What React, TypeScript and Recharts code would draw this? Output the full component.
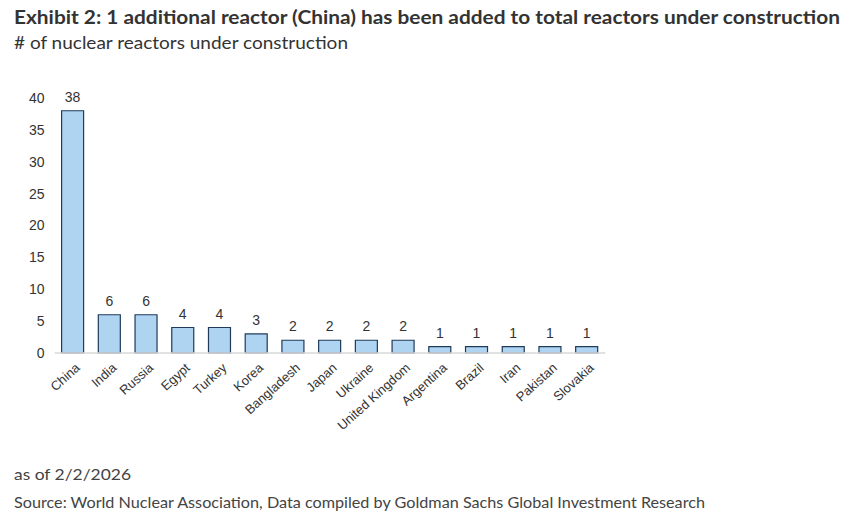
import React from "react";
import { BarChart, Bar, XAxis, YAxis, LabelList } from "recharts";

const countries = ["China", "India", "Russia", "Egypt", "Turkey", "Korea", "Bangladesh", "Japan", "Ukraine", "United Kingdom", "Argentina", "Brazil", "Iran", "Pakistan", "Slovakia"];
const reactors = [38, 6, 6, 4, 4, 3, 2, 2, 2, 2, 1, 1, 1, 1, 1];
const yTicks = [0, 5, 10, 15, 20, 25, 30, 35, 40];

const data = countries.map((c, i) => ({ country: c, value: reactors[i] }));

const AxisTick = (props: any) => {
  const { x, y, payload } = props;
  return (
    <g transform={`translate(${x + 5},${y + 5})`}>
      <text transform="rotate(-42)" textAnchor="end" dy={4} fontSize={13} fill="#333" fontFamily="Liberation Sans, Arial, sans-serif">
        {payload.value}
      </text>
    </g>
  );
};

const textFont = "Lato, 'Open Sans', sans-serif";

export default function App() {
  return (
    <div style={{ position: "absolute", left: 0, top: 0, width: 865, height: 526, background: "#fff" }}>
      <div style={{ position: "absolute", left: 0, top: 0 }}>
        <BarChart width={865} height={526} data={data} margin={{ top: 98, bottom: 73, left: 14.6, right: 259.6 }}>
          <XAxis dataKey="country" interval={0} tickLine={false} axisLine={{ stroke: "#d9d9d9", strokeWidth: 1.5 }} tick={<AxisTick />} height={100} />
          <YAxis domain={[0, 40]} ticks={yTicks} interval={0} width={40} axisLine={false} tickLine={false} tickSize={0} tickMargin={10} tick={{ fontSize: 14, fill: "#333", fontFamily: "Liberation Sans, Arial, sans-serif" }} />
          <Bar dataKey="value" fill="#aed4f2" stroke="#1f3b5a" strokeWidth={1.2} barSize={22} isAnimationActive={false}>
            <LabelList dataKey="value" position="top" offset={9} fontSize={14} fill="#333" fontFamily="Liberation Sans, Arial, sans-serif" />
          </Bar>
        </BarChart>
      </div>
      <svg width={865} height={526} style={{ position: "absolute", left: 0, top: 0, pointerEvents: "none" }}>
        <text x={14} y={24} fontSize={19} fontWeight={700} fill="#333" fontFamily={textFont} textLength={826} lengthAdjust="spacingAndGlyphs">
          Exhibit 2: 1 additional reactor (China) has been added to total reactors under construction
        </text>
        <text x={14} y={49} fontSize={17} fill="#333" fontFamily={textFont} textLength={334} lengthAdjust="spacingAndGlyphs">
          # of nuclear reactors under construction
        </text>
        <text x={14} y={480} fontSize={16} fill="#444" fontFamily={textFont} textLength={117} lengthAdjust="spacingAndGlyphs">
          as of 2/2/2026
        </text>
        <text x={14} y={508} fontSize={15} fill="#444" fontFamily={textFont} textLength={691} lengthAdjust="spacingAndGlyphs">
          Source: World Nuclear Association, Data compiled by Goldman Sachs Global Investment Research
        </text>
      </svg>
    </div>
  );
}
